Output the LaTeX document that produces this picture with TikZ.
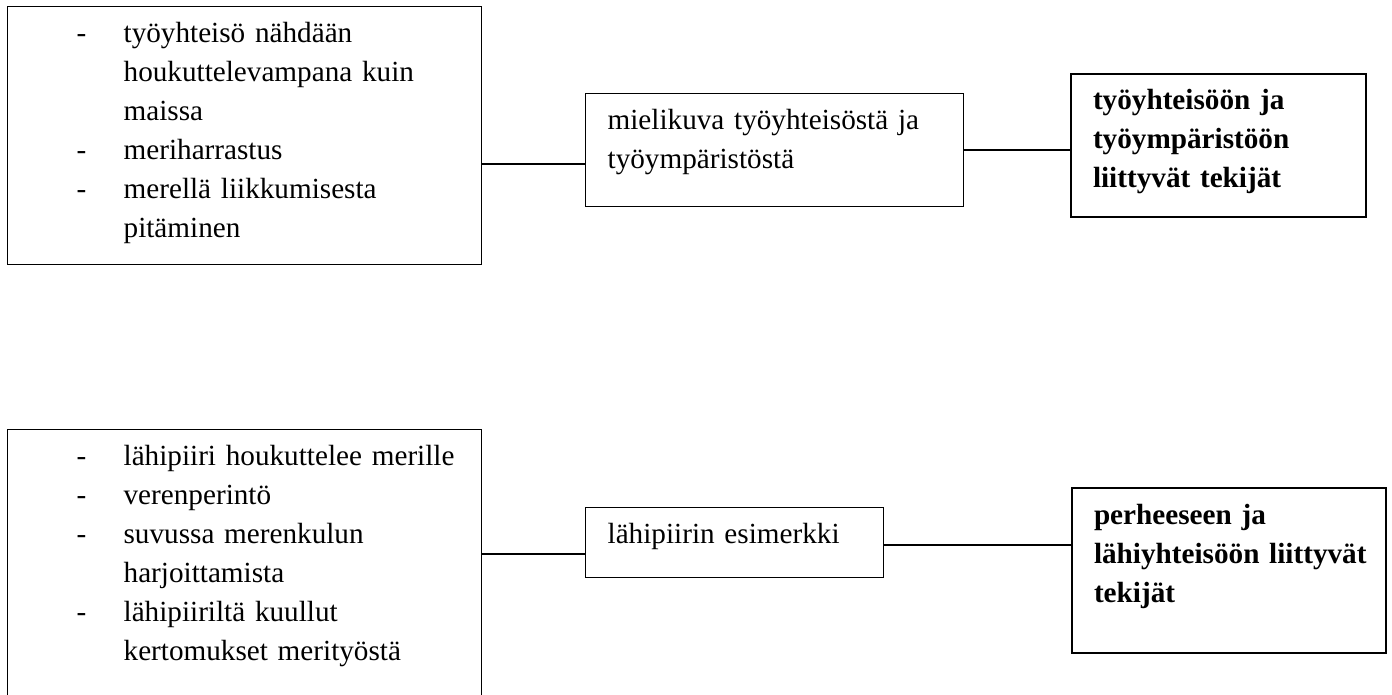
\documentclass[tikz,border=0pt]{standalone}
\usepackage{fontspec}
\setmainfont{Liberation Serif}
\usepackage{tikz}
\tikzstyle{box}=[draw, line width=1.3pt, inner sep=0pt, anchor=north west, align=left, text height=36pt, font=\fontsize{29.2}{39}\selectfont, execute at begin node={\leftskip=22pt\relax}]
\tikzstyle{factorbox}=[box, line width=2pt, font=\fontsize{29.2}{39}\selectfont\bfseries]
\tikzstyle{link}=[line width=1.3pt]
\newcommand{\dashline}{\hspace*{47pt}\makebox[47pt][l]{-}}
\newcommand{\contline}{\hspace*{94pt}}

\begin{document}
\begin{tikzpicture}[x=1pt, y=-1pt]
  \useasboundingbox (0,0) rectangle (1392,695);
  \clip (0,0) rectangle (1392,695);

  \node[box, text width=474pt, text depth=222pt] at (7, 6) (L1) {\dashline työyhteisö nähdään\\
    \contline houkuttelevampana kuin\\ \contline maissa\\ \dashline meriharrastus\\
    \dashline merellä liikkumisesta\\ \contline pitäminen};
  \node[box, text width=378pt, text depth=77pt] at (585, 93) (M1) {mielikuva työyhteisöstä ja\\ työympäristöstä};
  \node[factorbox, text width=295pt, text depth=107pt] at (1070, 73) (R1) {työyhteisöön ja\\ työympäristöön\\ liittyvät tekijät};

  \node[box, text width=474pt, text depth=235pt] at (7, 429) (L2) {\dashline lähipiiri houkuttelee merille\\
    \dashline verenperintö\\ \dashline suvussa merenkulun\\ \contline harjoittamista\\
    \dashline lähipiiriltä kuullut\\ \contline kertomukset merityöstä};
  \node[box, text width=298pt, text depth=34pt] at (585, 507) (M2) {lähipiirin esimerkki};
  \node[factorbox, text width=314pt, text depth=129pt] at (1071, 487) (R2) {perheeseen ja\\ lähiyhteisöön liittyvät\\ tekijät};

  \draw[link] (L1.east |- 0,164) -- (M1.west |- 0,164);
  \draw[link] (M1.east |- 0,150) -- (R1.west |- 0,150);
  \draw[link] (L2.east |- 0,554) -- (M2.west |- 0,554);
  \draw[link] (M2.east |- 0,545) -- (R2.west |- 0,545);
\end{tikzpicture}
\end{document}
